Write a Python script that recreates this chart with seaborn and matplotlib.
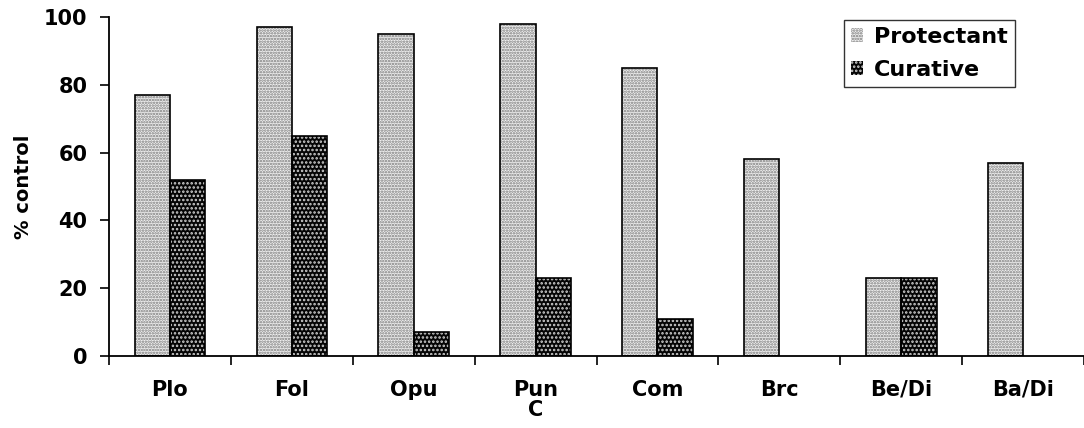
import matplotlib
matplotlib.use("Agg")
import matplotlib.pyplot as plt
from matplotlib.patches import Patch, Rectangle
import seaborn as sns
import pandas as pd

categories = ["Plo", "Fol", "Opu", "Pun\nC", "Com", "Brc", "Be/Di", "Ba/Di"]
protectant = [77, 97, 95, 98, 85, 58, 23, 57]
curative = [52, 65, 7, 23, 11, 0, 23, 0]
series = ["Protectant", "Curative"]
yticks = [0, 20, 40, 60, 80, 100]

df = pd.DataFrame({
    "cat": categories * 2,
    "val": protectant + curative,
    "series": [series[0]] * len(categories) + [series[1]] * len(categories),
})

sns.set_style("white")
plt.rcParams["font.family"] = ["DejaVu Sans"]
plt.rcParams["font.weight"] = "bold"
plt.rcParams["hatch.linewidth"] = 1.2
for key in ["text.color", "axes.labelcolor", "xtick.color", "ytick.color"]:
    plt.rcParams[key] = "black"

fig = plt.figure(figsize=(10.84, 4.28), dpi=100)
ax = fig.add_axes([0.1006, 0.1682, 0.8994, 0.7921])

sns.barplot(data=df, x="cat", y="val", hue="series", hue_order=series,
            order=categories, width=0.58, ax=ax, legend=False,
            palette=["#e6e6e6", "#111111"], saturation=1, errorbar=None)

n = len(categories)
styles = {
    0: dict(face="#f0f0f0", edge="#7a7a7a", hatch="......"),
    1: dict(face="#050505", edge="#d0d0d0", hatch="...."),
}
for i, p in enumerate(list(ax.patches)):
    s = styles[i // n]
    p.set_facecolor(s["face"])
    p.set_edgecolor(s["edge"])
    p.set_hatch(s["hatch"])
    p.set_linewidth(0)
    if p.get_height() > 0:
        ax.add_patch(Rectangle(p.get_xy(), p.get_width(), p.get_height(),
                               fill=False, edgecolor="black", linewidth=1.2))

ax.set_ylim(0, 100)
ax.set_xlim(-0.5, n - 0.554)
ax.set_yticks(yticks)
ax.set_yticklabels([str(t) for t in yticks], fontsize=15, fontweight="bold")
ax.tick_params(axis="y", direction="out", length=6.5, width=1.2, pad=9,
               left=True, colors="black")

ax.set_xticks(range(n))
ax.set_xticklabels(categories, fontsize=15, fontweight="bold", linespacing=1.0)
ax.set_xticks([i + 0.5 for i in range(-1, n)], minor=True)
ax.tick_params(axis="x", which="major", length=0, pad=17, colors="black")
ax.tick_params(axis="x", which="minor", direction="out", length=6.5, width=1.2,
               bottom=True, colors="black")

for side in ["top", "right"]:
    ax.spines[side].set_visible(False)
for side in ["left", "bottom"]:
    ax.spines[side].set_color("black")
    ax.spines[side].set_linewidth(1.3)

ax.set_xlabel("")
ax.set_ylabel("% control", fontsize=14, fontweight="bold", labelpad=8,
              color="black")

handles = [
    Patch(facecolor=styles[0]["face"], edgecolor=styles[0]["edge"],
          hatch=styles[0]["hatch"], linewidth=0),
    Patch(facecolor=styles[1]["face"], edgecolor=styles[1]["edge"],
          hatch=styles[1]["hatch"], linewidth=0),
]
leg = ax.legend(handles, series, loc="upper right",
                bbox_to_anchor=(0.929, 0.991), frameon=True, fancybox=False,
                prop={"size": 16, "weight": "bold"}, handlelength=0.55,
                handleheight=0.55, handletextpad=0.5, borderpad=0.3,
                labelspacing=0.6, borderaxespad=0)
leg.get_frame().set_edgecolor("black")
leg.get_frame().set_linewidth(1.0)
for t in leg.get_texts():
    t.set_color("black")

fig.savefig("out.png", dpi=100)
